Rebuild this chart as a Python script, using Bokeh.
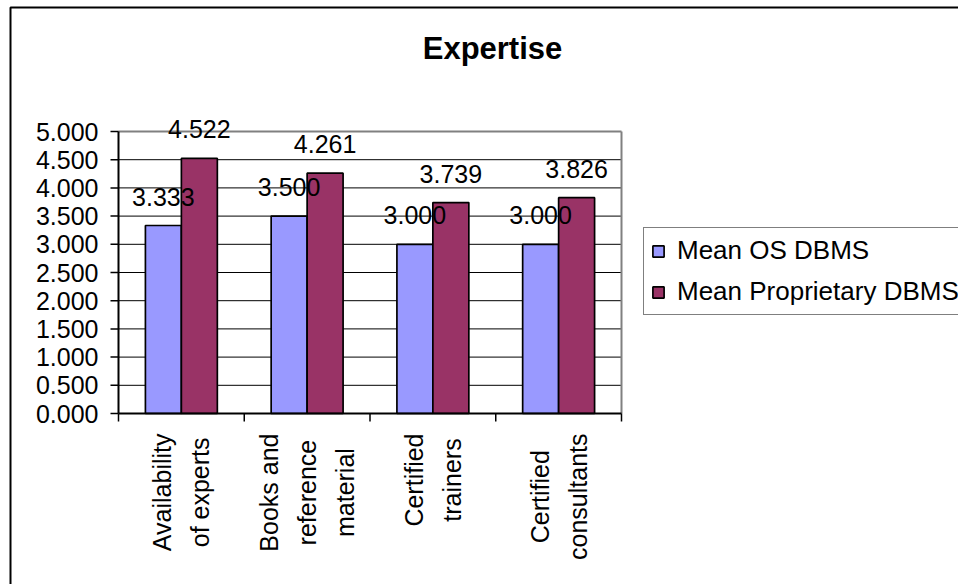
import math
from bokeh.plotting import figure
from bokeh.models import ColumnDataSource, Range1d, Label, BoxAnnotation
from bokeh.core.properties import value
from bokeh.embed import file_html
from bokeh.resources import INLINE

# --- data ---
categories = ["Availability\nof experts", "Books and\nreference\nmaterial",
              "Certified\ntrainers", "Certified\nconsultants"]
mean_os = [3.333, 3.500, 3.000, 3.000]
mean_prop = [4.522, 4.261, 3.739, 3.826]
series_names = ["Mean OS DBMS", "Mean Proprietary DBMS"]
series_colors = ["#9999FF", "#993366"]
y_ticks = [0.0, 0.5, 1.0, 1.5, 2.0, 2.5, 3.0, 3.5, 4.0, 4.5, 5.0]
title_text = "Expertise"

# --- layout (pixels) ---
W, H = 958, 584
AREA_L, AREA_R, AREA_T, AREA_B = 118, 621, 131, 413   # plot area inside the canvas
N = len(categories)
Y_MAX = y_ticks[-1]
px_x = (AREA_R - AREA_L) / N          # pixels per category
px_y = (AREA_B - AREA_T) / Y_MAX      # pixels per value unit

FONT = value("Liberation Sans")
FS = "25px"
BAR_W = 0.286
centers = [i + 0.5 for i in range(N)]

p = figure(width=W, height=H, output_backend="svg", toolbar_location=None,
           title=None, x_axis_type=None, y_axis_type=None,
           x_range=Range1d(-AREA_L / px_x, N + (W - AREA_R) / px_x),
           y_range=Range1d(-(H - AREA_B) / px_y, Y_MAX + AREA_T / px_y),
           min_border=0)
p.background_fill_color = "white"
p.border_fill_color = "white"
p.outline_line_color = None
p.grid.visible = False

# horizontal grid lines
grid_y = y_ticks[1:-1]
p.segment(x0=[0] * len(grid_y), x1=[N] * len(grid_y), y0=grid_y, y1=grid_y,
          line_color="black", line_width=1)

# bars
sources = []
for k, (vals, name, col) in enumerate(zip([mean_os, mean_prop], series_names, series_colors)):
    off = (k - 0.5) * BAR_W
    src = ColumnDataSource(dict(x=[c + off for c in centers], top=vals,
                                lbl=[f"{v:.3f}" for v in vals]))
    sources.append(src)
    p.vbar(x="x", top="top", width=BAR_W, bottom=0, source=src,
           fill_color=col, line_color="black", line_width=1.7, legend_label=name)

# plot area frame: grey top/right, black axes left/bottom
p.segment(x0=[0, N], x1=[N, N], y0=[Y_MAX, 0], y1=[Y_MAX, Y_MAX],
          line_color="#808080", line_width=2)
p.segment(x0=[0, 0], x1=[0, N], y0=[0, 0], y1=[Y_MAX, 0],
          line_color="black", line_width=2)

# value labels, drawn above all bars
for src in sources:
    p.text(x="x", y="top", text="lbl", source=src, y_offset=-29,
           text_align="center", text_baseline="alphabetic",
           text_font=FONT, text_font_size=FS, text_color="black")

# y axis ticks and labels
p.ray(x=[0] * len(y_ticks), y=y_ticks, length=8, length_units="screen",
      angle=math.pi, line_color="black", line_width=1.5)
p.text(x=[0] * len(y_ticks), y=y_ticks, text=[f"{t:.3f}" for t in y_ticks],
       x_offset=-20, text_align="right", text_baseline="middle",
       text_font=FONT, text_font_size=FS, text_color="black")

# x axis ticks at category boundaries, labels at category centres
bounds = list(range(N + 1))
p.ray(x=bounds, y=[0] * len(bounds), length=8, length_units="screen",
      angle=-math.pi / 2, line_color="black", line_width=1.5)
p.text(x=centers, y=[0] * N, text=categories, angle=math.pi / 2,
       anchor="center_right", text_align="center", y_offset=20,
       text_line_height=1.35,
       text_font=FONT, text_font_size=FS, text_color="black")

# legend
leg = p.legend[0]
leg.location = (643, H - 315)
leg.label_text_font = "Liberation Sans"
leg.label_text_font_size = "26px"
leg.label_text_color = "black"
leg.glyph_width = 14
leg.glyph_height = 14
leg.label_standoff = 12
leg.label_height = 30
leg.spacing = 10
leg.padding = 7
leg.margin = 0
leg.border_line_color = "black"
leg.border_line_width = 1
leg.background_fill_alpha = 1

# title
p.add_layout(Label(x=492, y=48, x_units="canvas", y_units="canvas", text=title_text,
                   text_align="center", text_baseline="alphabetic",
                   text_font="Liberation Sans", text_font_size="31px",
                   text_font_style="bold", text_color="black"))

# chart area border
p.add_layout(BoxAnnotation(left=10, right=2000, top=7, bottom=2000,
                           left_units="canvas", right_units="canvas",
                           top_units="canvas", bottom_units="canvas",
                           fill_alpha=0, line_color="black", line_alpha=1,
                           line_width=2))

open("out.html", "w").write(file_html(p, INLINE))
